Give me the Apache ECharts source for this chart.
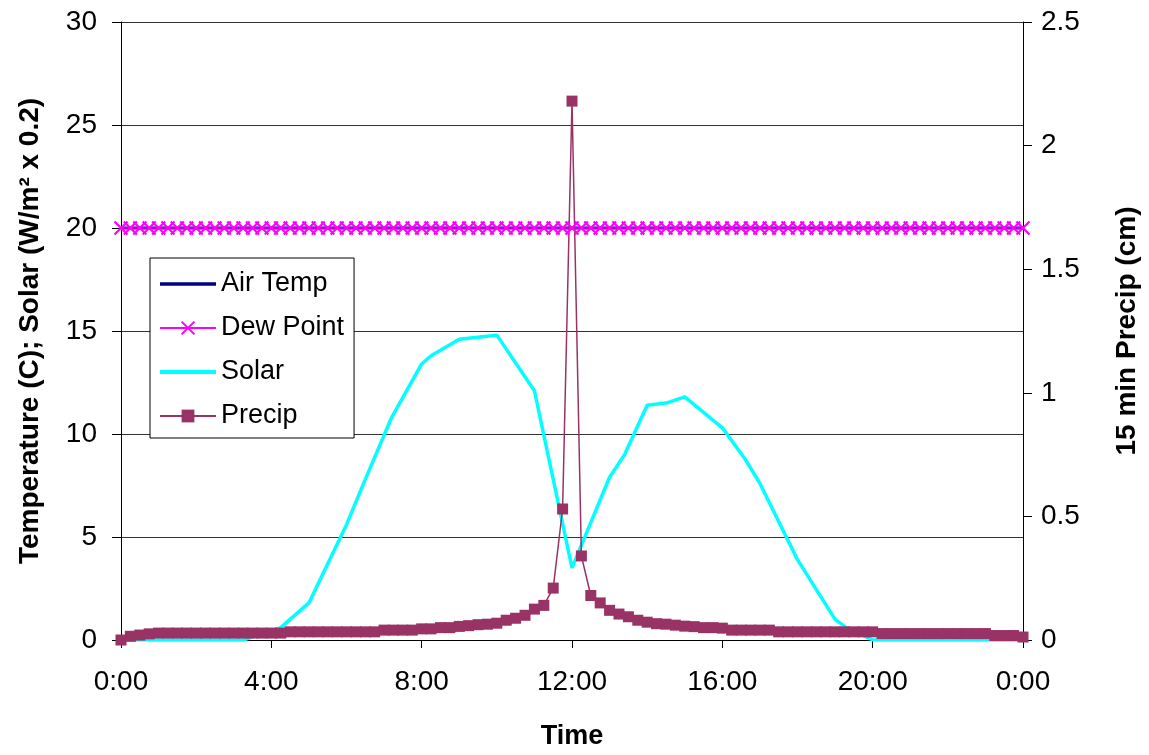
<!DOCTYPE html>
<html>
<head>
<meta charset="utf-8">
<script src="https://cdn.jsdelivr.net/npm/echarts@6/dist/echarts.min.js"></script>
<style>
  html, body { margin: 0; padding: 0; background: #fff; }
  #chart { width: 1149px; height: 755px; }
</style>
</head>
<body>
<div id="chart"></div>
<script>
// 15-minute readings, 0:00 to 24:00 (hours)
const times = Array.from({ length: 97 }, (_, i) => i / 4)

const airTemp = [
  20, 20, 20, 20, 20, 20, 20, 20, 20, 20, 20, 20, 20, 20, 20, 20, 20, 20, 20, 20,
  20, 20, 20, 20, 20, 20, 20, 20, 20, 20, 20, 20, 20, 20, 20, 20, 20, 20, 20, 20,
  20, 20, 20, 20, 20, 20, 20, 20, 20, 20, 20, 20, 20, 20, 20, 20, 20, 20, 20, 20,
  20, 20, 20, 20, 20, 20, 20, 20, 20, 20, 20, 20, 20, 20, 20, 20, 20, 20, 20, 20,
  20, 20, 20, 20, 20, 20, 20, 20, 20, 20, 20, 20, 20, 20, 20, 20, 20,
]

const dewPoint = [
  20, 20, 20, 20, 20, 20, 20, 20, 20, 20, 20, 20, 20, 20, 20, 20, 20, 20, 20, 20,
  20, 20, 20, 20, 20, 20, 20, 20, 20, 20, 20, 20, 20, 20, 20, 20, 20, 20, 20, 20,
  20, 20, 20, 20, 20, 20, 20, 20, 20, 20, 20, 20, 20, 20, 20, 20, 20, 20, 20, 20,
  20, 20, 20, 20, 20, 20, 20, 20, 20, 20, 20, 20, 20, 20, 20, 20, 20, 20, 20, 20,
  20, 20, 20, 20, 20, 20, 20, 20, 20, 20, 20, 20, 20, 20, 20, 20, 20,
]

const precip = [
  0.0, 0.015, 0.02, 0.025,
  0.028, 0.028, 0.028, 0.028, 0.028, 0.028, 0.028, 0.028, 0.028, 0.028, 0.028, 0.028, 0.028, 0.028,
  0.033, 0.033, 0.033, 0.033, 0.033, 0.033, 0.033, 0.033, 0.033, 0.033,
  0.04, 0.04, 0.04, 0.04,
  0.045, 0.045, 0.05, 0.05, 0.055, 0.058, 0.062, 0.064,
  0.068, 0.08, 0.088, 0.1, 0.125, 0.14, 0.21, 0.53,
  2.18, 0.34, 0.18, 0.15, 0.12, 0.105, 0.094, 0.08,
  0.072, 0.066, 0.064, 0.06, 0.056, 0.054, 0.05, 0.05, 0.048,
  0.04, 0.04, 0.04, 0.04, 0.04,
  0.033, 0.033, 0.033, 0.033, 0.033, 0.033, 0.033, 0.033, 0.033, 0.033, 0.033,
  0.026, 0.026, 0.026, 0.026, 0.026, 0.026, 0.026, 0.026, 0.026, 0.026, 0.026, 0.026,
  0.018, 0.018, 0.018, 0.012,
]

// solar (W/m2 x 0.2), logged at its own times
const solarHours = [0, 3.25, 4.25, 5, 6, 6.5, 7.2, 8, 8.25, 9, 9.5, 10, 11, 12, 13, 13.4, 14, 14.5, 15, 16, 16.6, 17, 18, 19, 19.3, 20, 24]
const solarValues = [0, 0, 0.6, 1.8, 5.6, 7.8, 10.8, 13.4, 13.8, 14.6, 14.7, 14.8, 12.1, 3.5, 7.9, 9.0, 11.4, 11.5, 11.8, 10.3, 8.8, 7.6, 3.9, 1.0, 0.6, 0, 0]

const FONT = '"Liberation Sans", Arial, sans-serif'
const pairs = (xs, ys) => xs.map((x, i) => [x, ys[i]])
const noSymbol = { opacity: 0 }

const chart = echarts.init(document.getElementById('chart'))

chart.setOption({
  animation: false,
  backgroundColor: '#fff',
  textStyle: { fontFamily: FONT, color: '#000' },
  grid: { left: 121, right: 119, top: 22, bottom: 111 },
  legend: {
    orient: 'vertical',
    left: 150,
    top: 258,
    padding: [11, 10, 7, 8],
    itemWidth: 56,
    itemHeight: 16,
    itemGap: 14,
    backgroundColor: '#fff',
    borderColor: '#000',
    borderWidth: 1,
    textStyle: { fontFamily: FONT, fontSize: 27, color: '#000', lineHeight: 30 },
    data: [
      { name: 'Air Temp', itemStyle: noSymbol, lineStyle: { width: 3.5 } },
      { name: 'Dew Point' },
      { name: 'Solar', itemStyle: noSymbol, lineStyle: { width: 4 } },
      { name: 'Precip' },
    ],
  },
  xAxis: {
    type: 'value',
    min: 0,
    max: 24,
    interval: 4,
    name: 'Time',
    nameLocation: 'middle',
    nameGap: 83,
    nameTextStyle: { fontFamily: FONT, fontSize: 27, fontWeight: 'bold', color: '#000' },
    axisLine: { lineStyle: { color: '#000', width: 1 } },
    axisTick: { show: true, length: 8, lineStyle: { color: '#000' } },
    axisLabel: {
      fontFamily: FONT, fontSize: 28, color: '#000', margin: 28,
      formatter: v => (v % 24) + ':00',
    },
    splitLine: { show: false },
  },
  yAxis: [
    {
      type: 'value',
      min: 0,
      max: 30,
      interval: 5,
      position: 'left',
      name: 'Temperature (C); Solar (W/m² x 0.2)',
      nameLocation: 'middle',
      nameGap: 77,
      nameTextStyle: { fontFamily: FONT, fontSize: 28, fontWeight: 'bold', color: '#000' },
      axisLine: { show: true, lineStyle: { color: '#000', width: 1 } },
      axisTick: { show: true, length: 9, lineStyle: { color: '#000' } },
      axisLabel: { fontFamily: FONT, fontSize: 28, color: '#000', margin: 24 },
      splitLine: { show: true, lineStyle: { color: '#333', width: 1 } },
    },
    {
      type: 'value',
      min: 0,
      max: 2.5,
      interval: 0.5,
      position: 'right',
      name: '15 min Precip (cm)',
      nameLocation: 'middle',
      nameRotate: 90,
      nameGap: 90,
      nameTextStyle: { fontFamily: FONT, fontSize: 28, fontWeight: 'bold', color: '#000' },
      axisLine: { show: true, lineStyle: { color: '#000', width: 1 } },
      axisTick: { show: true, length: 9, lineStyle: { color: '#000' } },
      axisLabel: { fontFamily: FONT, fontSize: 28, color: '#000', margin: 18 },
      splitLine: { show: false },
    },
  ],
  series: [
    {
      name: 'Air Temp',
      type: 'line',
      yAxisIndex: 0,
      data: pairs(times, airTemp),
      symbol: 'none',
      lineStyle: { color: '#000080', width: 3 },
      itemStyle: { color: '#000080' },
    },
    {
      name: 'Dew Point',
      type: 'line',
      yAxisIndex: 0,
      data: pairs(times, dewPoint),
      symbol: 'path://M0,0L10,10M10,0L0,10',
      symbolSize: 13,
      lineStyle: { color: '#FF00FF', width: 1.5 },
      itemStyle: { color: 'rgba(0,0,0,0)', borderColor: '#FF00FF', borderWidth: 2.2 },
    },
    {
      name: 'Solar',
      type: 'line',
      yAxisIndex: 0,
      data: pairs(solarHours, solarValues),
      symbol: 'none',
      lineStyle: { color: '#00FFFF', width: 3.5 },
      itemStyle: { color: '#00FFFF' },
    },
    {
      name: 'Precip',
      type: 'line',
      yAxisIndex: 1,
      data: pairs(times, precip),
      symbol: 'rect',
      symbolSize: 11,
      lineStyle: { color: '#993366', width: 1.5 },
      itemStyle: { color: '#993366', borderWidth: 0 },
    },
  ],
})
</script>
</body>
</html>
